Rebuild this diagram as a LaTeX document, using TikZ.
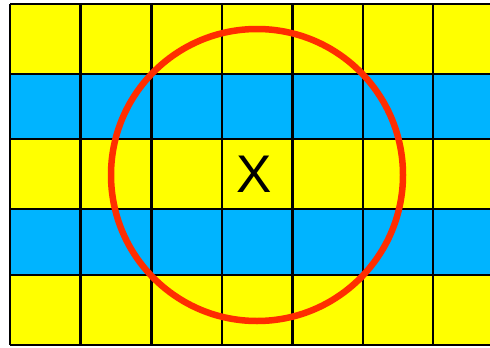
\documentclass[tikz,border=0pt]{standalone}
\usepackage{fontspec}
\setmainfont{Liberation Sans}
\definecolor{cellyellow}{RGB}{255,255,0}
\definecolor{cellblue}{RGB}{0,180,255}
\definecolor{ringred}{RGB}{255,45,0}
\tikzset{gridline/.style={line width=2.6pt,black}}

\begin{document}
\begin{tikzpicture}[x=1pt,y=-1pt]
	\useasboundingbox (0,0) rectangle (490,348);
	% stripes
	\foreach \ya/\yb/\c in {4/74/cellyellow,74/139/cellblue,139/209/cellyellow,209/275/cellblue,275/345/cellyellow}
		\fill[\c] (10,\ya) rectangle (490,\yb);
	% grid
	\foreach \x in {10,80.5,151.5,222,292.5,363,433}
		\draw[gridline] (\x,4) -- (\x,345);
	\foreach \y in {4,74,139,209,275,345}
		\draw[gridline] (10,\y) -- (490,\y);
	% ring and mark
	\draw[ringred,line width=6.5pt] (257,175) circle (146pt);
	\node (mark) at (254.5,174) {\fontsize{53}{60}\selectfont X};
\end{tikzpicture}
\end{document}
